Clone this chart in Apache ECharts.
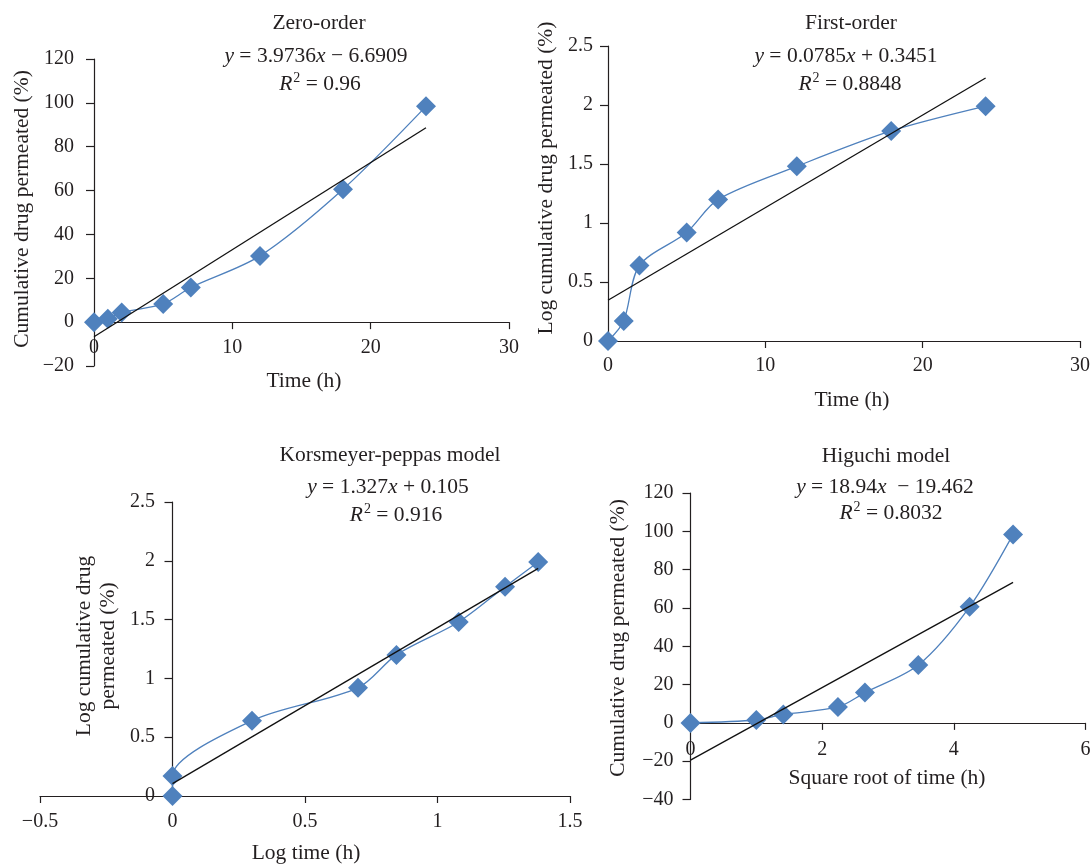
<!DOCTYPE html>
<html>
<head>
<meta charset="utf-8">
<style>
  html, body { margin: 0; padding: 0; background: #ffffff; }
  #chart { width: 1092px; height: 864px; }
</style>
<script src="https://cdn.jsdelivr.net/npm/echarts@6/dist/echarts.min.js"></script>
</head>
<body>
<div id="chart"></div>
<script>
// ---- data ----
const time = [0, 1, 2, 5, 7, 12, 18, 24];
const cumulativePct = [0, 1.5, 4.4, 8.3, 15.8, 30.2, 60.6, 98.4];
const logCumulative = [0, 0.17, 0.64, 0.92, 1.2, 1.48, 1.78, 1.99];
const logTime = [0, 0, 0.3, 0.7, 0.845, 1.08, 1.255, 1.38];
const logCumulativeKP = [0, 0.17, 0.64, 0.92, 1.2, 1.48, 1.78, 1.99];
const sqrtTime = [0, 1, 1.41, 2.24, 2.65, 3.46, 4.24, 4.9];
const cumulativeHiguchi = [0, 1.5, 4.4, 8.3, 15.8, 30.2, 60.6, 98.4];

// linear trend lines (end points)
const trendZero = [[0, -6.69], [24, 88.68]];
const trendFirst = [[0, 0.345], [24, 2.229]];
const trendKP = [[0, 0.105], [1.38, 1.936]];
const trendHiguchi = [[0, -19.46], [4.9, 73.35]];

const titles = ['Zero-order', 'First-order', 'Korsmeyer-peppas model', 'Higuchi model'];
const equations = [
  ['3.9736', ' \u2212 6.6909'],
  ['0.0785', ' + 0.3451'],
  ['1.327', ' + 0.105'],
  ['18.94', '  \u2212 19.462']
];
const r2 = ['0.96', '0.8848', '0.916', '0.8032'];

// ---- styling ----
const FONT = 'Liberation Serif';
const INK = '#231f20';
const BLUE = '#4f81bd';
const FS = 20;     // tick labels
const TFS = 21.5;  // titles, equations, axis names

const pair = (xs, ys) => xs.map((x, i) => [x, ys[i]]);
const fmt = v => String(v).replace('-', '\u2212');

function xAxis(gi, min, max, interval, margin) {
  return {
    gridIndex: gi, type: 'value', min, max, interval,
    axisLine: { show: true, onZero: true, lineStyle: { color: INK, width: 1.2 } },
    axisTick: { show: true, inside: false, length: 7, lineStyle: { color: INK, width: 1.2 } },
    axisLabel: { margin, color: INK, fontFamily: FONT, fontSize: FS, formatter: fmt },
    splitLine: { show: false }
  };
}
function yAxis(gi, min, max, interval, margin) {
  return {
    gridIndex: gi, type: 'value', min, max, interval,
    axisLine: { show: true, onZero: true, lineStyle: { color: INK, width: 1.2 } },
    axisTick: { show: true, inside: false, length: 8, lineStyle: { color: INK, width: 1.2 } },
    axisLabel: { margin, color: INK, fontFamily: FONT, fontSize: FS, formatter: fmt },
    splitLine: { show: false }
  };
}
function dataSeries(i, data) {
  return {
    type: 'line', xAxisIndex: i, yAxisIndex: i, data,
    smooth: 0.3, symbol: 'diamond', symbolSize: 20, showAllSymbol: true,
    lineStyle: { color: BLUE, width: 1.3 },
    itemStyle: { color: BLUE },
    z: 2, silent: true
  };
}
function trendSeries(i, data) {
  return {
    type: 'line', xAxisIndex: i, yAxisIndex: i, data,
    symbol: 'none', lineStyle: { color: '#111111', width: 1.3 },
    z: 3, silent: true
  };
}

function txt(x, y, text, opts) {
  opts = opts || {};
  return {
    type: 'text', x, y, rotation: opts.rotation || 0, silent: true,
    style: Object.assign({
      text, fill: INK, fontFamily: FONT, fontSize: TFS,
      align: 'center', verticalAlign: 'middle'
    }, opts.style || {})
  };
}
const rich = {
  n: { fontFamily: FONT, fontSize: TFS, fill: INK, color: INK, lineHeight: 26 },
  i: { fontFamily: FONT, fontSize: TFS, fontStyle: 'italic', fill: INK, color: INK, lineHeight: 26 },
  s: { fontFamily: FONT, fontSize: 14, fill: INK, color: INK, verticalAlign: 'top', lineHeight: 26, padding: [0, 0, 6, 1] }
};
function eqText(k) {
  return '{i|y}{n| = ' + equations[k][0] + '}{i|x}{n|' + equations[k][1] + '}';
}
function r2Text(k) {
  return '{i|R}{s|2}{n| = ' + r2[k] + '}';
}

// text anchor positions per panel: title, equation, R2
const textPos = [
  [[319, 23], [316, 56], [320, 84]],
  [[851, 23], [846, 56], [850, 84]],
  [[390, 455], [388, 487], [396, 515]],
  [[886, 456], [885, 487], [891, 513]]
];

const graphics = [];
for (let k = 0; k < 4; k++) {
  graphics.push(txt(textPos[k][0][0], textPos[k][0][1], titles[k]));
  graphics.push(txt(textPos[k][1][0], textPos[k][1][1], eqText(k), { style: { rich } }));
  graphics.push(txt(textPos[k][2][0], textPos[k][2][1], r2Text(k), { style: { rich } }));
}
// axis names
graphics.push(txt(304, 381, 'Time (h)'));
graphics.push(txt(22, 209, 'Cumulative drug permeated (%)', { rotation: Math.PI / 2 }));
graphics.push(txt(852, 400, 'Time (h)'));
graphics.push(txt(546, 178, 'Log cumulative drug permeated (%)', { rotation: Math.PI / 2 }));
graphics.push(txt(306, 853, 'Log time (h)'));
graphics.push(txt(84, 646, 'Log cumulative drug', { rotation: Math.PI / 2 }));
graphics.push(txt(108, 646, 'permeated (%)', { rotation: Math.PI / 2 }));
graphics.push(txt(887, 778, 'Square root of time (h)'));
graphics.push(txt(618, 638, 'Cumulative drug permeated (%)', { rotation: Math.PI / 2 }));

const chart = echarts.init(document.getElementById('chart'), null, { renderer: 'canvas' });
chart.setOption({
  animation: false,
  backgroundColor: '#ffffff',
  grid: [
    { left: 94, top: 59, width: 415, height: 307, outerBoundsMode: 'none' },
    { left: 608, top: 46, width: 472, height: 295, outerBoundsMode: 'none' },
    { left: 40, top: 502, width: 530, height: 294, outerBoundsMode: 'none' },
    { left: 690.5, top: 493, width: 395, height: 306.5, outerBoundsMode: 'none' }
  ],
  xAxis: [
    xAxis(0, 0, 30, 10, -28),
    xAxis(1, 0, 30, 10, 15),
    xAxis(2, -0.5, 1.5, 0.5, 16),
    xAxis(3, 0, 6, 2, -60)
  ],
  yAxis: [
    yAxis(0, -20, 120, 20, 20),
    yAxis(1, 0, 2.5, 0.5, 15),
    yAxis(2, 0, 2.5, 0.5, -115),
    yAxis(3, -40, 120, 20, 17)
  ],
  series: [
    dataSeries(0, pair(time, cumulativePct)),
    trendSeries(0, trendZero),
    dataSeries(1, pair(time, logCumulative)),
    trendSeries(1, trendFirst),
    dataSeries(2, pair(logTime, logCumulativeKP)),
    trendSeries(2, trendKP),
    dataSeries(3, pair(sqrtTime, cumulativeHiguchi)),
    trendSeries(3, trendHiguchi)
  ],
  graphic: graphics
});
</script>
</body>
</html>
